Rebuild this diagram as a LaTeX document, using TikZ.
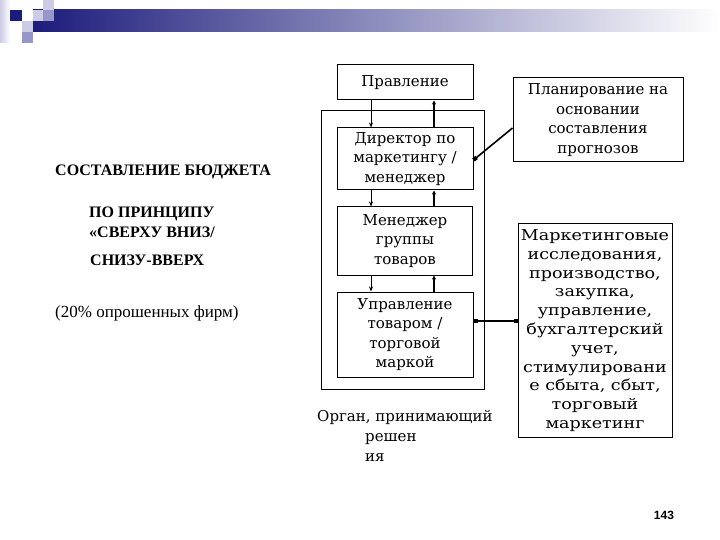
\documentclass[tikz,border=0pt]{standalone}
\usepackage{fontspec}
\setmainfont{DejaVu Serif}
\newfontfamily\widefont[FakeStretch=1.17]{DejaVu Serif}
\newfontfamily\timesfont{Liberation Serif}
\newfontfamily\arialfont{Liberation Sans}
\usetikzlibrary{arrows.meta}
\definecolor{navy}{RGB}{28,28,124}
\definecolor{lavlight}{RGB}{204,204,230}
\definecolor{lavmid}{RGB}{150,150,200}
\tikzset{
  box/.style={draw, line width=1pt, align=center, inner sep=2pt,
    font=\fontsize{15}{19.5}\selectfont},
  dn/.style={-{Stealth[length=5pt,width=4pt]}, line width=0.8pt},
  up/.style={-{Stealth[length=4pt,width=4pt]}, line width=2pt},
  lbl/.style={anchor=west, align=left, inner sep=0pt,
    font=\timesfont\bfseries\fontsize{16}{20}\selectfont}
}
\begin{document}
\begin{tikzpicture}[x=1pt,y=-1pt]
  \useasboundingbox (0,0) rectangle (720,540);
  % header bar
  \shade[left color=lavlight, right color=white] (0,0) rectangle (10,43);
  \shade[left color=navy, right color=white] (33,10) rectangle (720,32);
  \fill[navy] (10,10) rectangle (22,21);
  \fill[lavlight] (33,10) rectangle (43,21);
  \fill[lavlight] (43,0) rectangle (54,10);
  \fill[lavlight] (22,21) rectangle (33,32);
  \fill[lavmid] (22,32) rectangle (33,43);
  \fill[lavmid] (43,10) rectangle (54,21);

  % left column
  \node[lbl] (budget) at (55,172) {СОСТАВЛЕНИЕ БЮДЖЕТА};
  \node[lbl] (principle) at (89,222) {ПО ПРИНЦИПУ\\«СВЕРХУ ВНИЗ/};
  \node[lbl] (bottomup) at (90,260) {СНИЗУ-ВВЕРХ};
  \node[lbl, font=\timesfont\fontsize{17}{20}\selectfont] (share) at (55,313)
    {(20\% опрошенных фирм)};

  % hierarchy
  \node[box, minimum width=136pt, minimum height=35pt] (board) at (405,82.5) {Правление};
  \draw[line width=1pt] (321,111) rectangle (484,389);
  \node[box, minimum width=136pt, minimum height=62pt] (director) at (405,159)
    {Директор по\\маркетингу /\\менеджер};
  \node[box, minimum width=135pt, minimum height=68pt] (groupmgr) at (405,241)
    {Менеджер\\группы\\товаров};
  \node[box, minimum width=136pt, minimum height=85pt] (brand) at (405,334.5)
    {Управление\\товаром /\\торговой\\маркой};
  \node[anchor=north west, align=left, inner sep=0pt,
    font=\fontsize{15}{20}\selectfont] (organ) at (317,410)
    {Орган, принимающий\\\hspace*{48pt}решен\\\hspace*{48pt}ия};

  % right column
  \node[box, minimum width=170pt, minimum height=84pt] (forecast) at (598,120)
    {Планирование на\\основании\\составления\\прогнозов};
  \node[box, minimum width=154pt, minimum height=213pt,
    font=\widefont\fontsize{15}{18.8}\selectfont] (functions) at (595,330.5)
    {Маркетинговые\\исследования,\\производство,\\закупка,\\управление,\\бухгалтерский\\учет,\\стимулировани\\е сбыта, сбыт,\\торговый\\маркетинг};

  % connectors
  \draw[dn] ([xshift=-34pt]board.south) -- ([xshift=-34pt]director.north);
  \draw[up] ([xshift=29pt]director.north) -- ([xshift=29pt]board.south);
  \draw[dn] ([xshift=-34pt]director.south) -- ([xshift=-34pt]groupmgr.north);
  \draw[up] ([xshift=29pt]groupmgr.north) -- ([xshift=29pt]director.south);
  \draw[dn] ([xshift=-34pt]groupmgr.south) -- ([xshift=-34pt]brand.north);
  \draw[up] ([xshift=29pt]brand.north) -- ([xshift=29pt]groupmgr.south);
  \draw[line width=1.6pt, -{Square[length=4pt,width=4pt]}]
    ([yshift=-8pt]forecast.west) -- ([yshift=-1pt]director.east);
  \draw[line width=2pt, {Square[length=4pt,width=4pt]}-{Square[length=4pt,width=4pt]}]
    ([yshift=13.5pt]brand.east) -- ([yshift=13.5pt]brand.east -| functions.west);

  \node[font=\arialfont\bfseries\fontsize{12}{14}\selectfont] (pagenum) at (664,515) {143};
\end{tikzpicture}
\end{document}
